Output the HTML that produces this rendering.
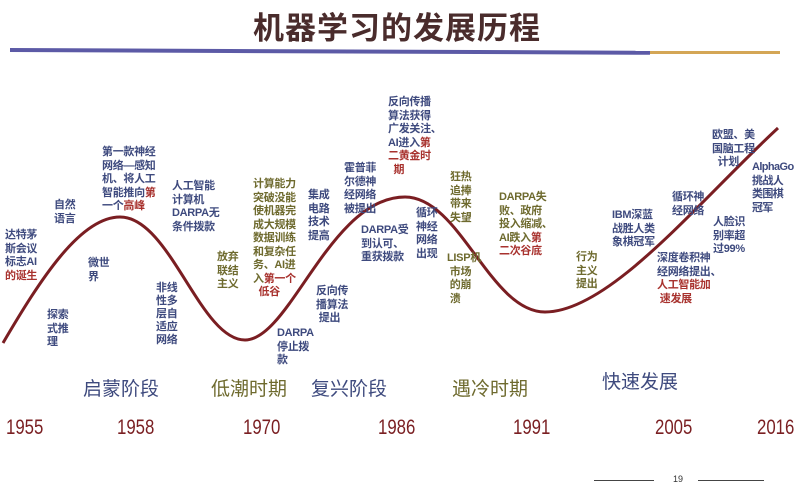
<!DOCTYPE html><html><head><meta charset="utf-8"><style>
body{margin:0;width:795px;height:500px;background:#fff;position:relative;overflow:hidden;font-family:"Liberation Sans","Noto Sans CJK SC",sans-serif}
.t{position:absolute;font-size:11px;line-height:13.5px;font-weight:bold;color:#3e4a7e;white-space:nowrap;letter-spacing:-0.3px}
.o{color:#6e6a2e}.r{color:#a8322e}
.s{position:absolute;font-size:19px;line-height:22px;color:#3e4a7e}
.y{position:absolute;top:416px;font-size:21px;color:#7a1f22;transform:scaleX(0.8);transform-origin:left}
</style></head><body>
<div style="position:absolute;left:253px;top:3px;font-size:31px;font-weight:bold;color:#4a2c2c;letter-spacing:1px;font-family:'Noto Sans CJK SC',sans-serif">机器学习的发展历程</div>
<div style="position:absolute;left:10px;top:48px;width:640px;height:4px;background:#5c5aa6;transform:rotate(0.25deg);transform-origin:left"></div>
<div style="position:absolute;left:650px;top:51px;width:130px;height:3px;background:#d4a656"></div>
<svg style="position:absolute;left:0;top:0" width="795" height="500"><path d="M3,343 C40,280 80,217 120,217 C170,217 200,340 245,340 C290,340 330,197 405,197 C460,197 490,312 545,312 C610,312 700,200 778,128" fill="none" stroke="#7a1e22" stroke-width="3"/></svg>
<div class="t" style="left:5px;top:229px">达特茅<br>斯会议<br>标志AI<br><span class="r">的诞生</span></div>
<div class="t" style="left:54px;top:199px">自然<br>语言</div>
<div class="t" style="left:102px;top:146px">第一款神经<br>网络—感知<br>机、将人工<br>智能推向<span class="r">第</span><br>一个<span class="r">高峰</span></div>
<div class="t" style="left:88px;top:257px">微世<br>界</div>
<div class="t" style="left:47px;top:309px">探索<br>式推<br>理</div>
<div class="t" style="left:172px;top:180px">人工智能<br>计算机<br>DARPA无<br>条件拨款</div>
<div class="t" style="left:156px;top:282px;line-height:13px">非线<br>性多<br>层自<br>适应<br>网络</div>
<div class="t o" style="left:217px;top:251px">放弃<br>联结<br>主义</div>
<div class="t o" style="left:253px;top:178px">计算能力<br>突破没能<br>使机器完<br>成大规模<br>数据训练<br>和复杂任<br>务、AI进<br>入<span class="r">第一个</span><br>&nbsp;&nbsp;<span class="r">低谷</span></div>
<div class="t" style="left:277px;top:327px">DARPA<br>停止拨<br>款</div>
<div class="t" style="left:308px;top:189px">集成<br>电路<br>技术<br>提高</div>
<div class="t" style="left:316px;top:285px">反向传<br>播算法<br>&nbsp;提出</div>
<div class="t" style="left:344px;top:162px">霍普菲<br>尔德神<br>经网络<br>被提出</div>
<div class="t" style="left:361px;top:224px">DARPA受<br>到认可、<br>重获拨款</div>
<div class="t" style="left:388px;top:96px">反向传播<br>算法获得<br>广发关注、<br>AI进入<span class="r">第</span><br><span class="r">二黄金时</span><br>&nbsp;&nbsp;<span class="r">期</span></div>
<div class="t" style="left:416px;top:207px">循环<br>神经<br>网络<br>出现</div>
<div class="t o" style="left:450px;top:171px">狂热<br>追捧<br>带来<br>失望</div>
<div class="t o" style="left:447px;top:252px">LISP机<br>&nbsp;市场<br>&nbsp;的崩<br>&nbsp;溃</div>
<div class="t o" style="left:499px;top:191px">DARPA失<br>败、政府<br>投入缩减、<br>AI跌入<span class="r">第</span><br><span class="r">二次谷底</span></div>
<div class="t o" style="left:576px;top:251px">行为<br>主义<br>提出</div>
<div class="t" style="left:612px;top:209px">IBM深蓝<br>战胜人类<br>象棋冠军</div>
<div class="t" style="left:657px;top:252px">深度卷积神<br>经网络提出、<br><span class="r">人工智能加</span><br>&nbsp;<span class="r">速发展</span></div>
<div class="t" style="left:672px;top:191px">循环神<br>经网络</div>
<div class="t" style="left:713px;top:216px">人脸识<br>别率超<br>过99%</div>
<div class="t" style="left:712px;top:129px">欧盟、美<br>国脑工程<br>&nbsp;&nbsp;计划</div>
<div class="t" style="left:752px;top:161px;letter-spacing:-0.6px">AlphaGo<br>挑战人<br>类围棋<br>冠军</div>
<div class="s" style="left:83px;top:379px">启蒙阶段</div>
<div class="s" style="left:211px;top:379px;color:#6e6a2e">低潮时期</div>
<div class="s" style="left:311px;top:379px">复兴阶段</div>
<div class="s" style="left:452px;top:379px;color:#6e6a2e">遇冷时期</div>
<div class="s" style="left:602px;top:372px">快速发展</div>
<div class="y" style="left:6px">1955</div>
<div class="y" style="left:117px">1958</div>
<div class="y" style="left:243px">1970</div>
<div class="y" style="left:378px">1986</div>
<div class="y" style="left:513px">1991</div>
<div class="y" style="left:655px">2005</div>
<div class="y" style="left:757px">2016</div>
<div style="position:absolute;left:594px;top:480px;width:60px;height:1px;background:#444"></div>
<div style="position:absolute;left:673px;top:474px;font-size:9px;color:#333">19</div>
<div style="position:absolute;left:698px;top:480px;width:66px;height:1px;background:#444"></div>
</body></html>
